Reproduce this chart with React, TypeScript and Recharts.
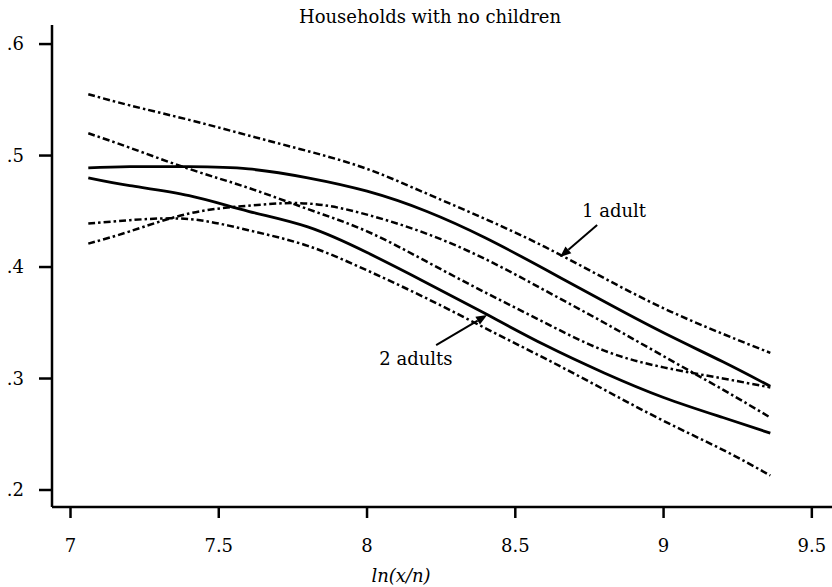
import React from 'react';
import { LineChart, Line, XAxis, YAxis, ReferenceLine, ReferenceDot } from 'recharts';

const xValues = [7.06, 7.2, 7.4, 7.6, 7.8, 8.0, 8.2, 8.4, 8.6, 8.8, 9.0, 9.2, 9.36];
const oneAdult = [0.489, 0.49, 0.49, 0.488, 0.48, 0.468, 0.45, 0.426, 0.398, 0.369, 0.341, 0.315, 0.293];
const oneAdultUpper = [0.555, 0.545, 0.532, 0.518, 0.504, 0.488, 0.466, 0.443, 0.418, 0.39, 0.363, 0.34, 0.323];
const oneAdultLower = [0.421, 0.432, 0.448, 0.455, 0.457, 0.447, 0.43, 0.407, 0.379, 0.35, 0.32, 0.29, 0.265];
const twoAdults = [0.48, 0.473, 0.464, 0.45, 0.436, 0.413, 0.386, 0.358, 0.33, 0.305, 0.283, 0.265, 0.251];
const twoAdultsUpper = [0.52, 0.507, 0.488, 0.471, 0.452, 0.432, 0.405, 0.377, 0.35, 0.325, 0.31, 0.3, 0.292];
const twoAdultsLower = [0.439, 0.442, 0.443, 0.433, 0.419, 0.397, 0.372, 0.345, 0.318, 0.29, 0.262, 0.236, 0.213];

const xTicks = [7, 7.5, 8, 8.5, 9, 9.5];
const yTicks = [0.2, 0.3, 0.4, 0.5, 0.6];

const title = 'Households with no children';
const xLabel = 'ln(x/n)';
const label1 = '1 adult';
const label2 = '2 adults';

const data = xValues.map((x, i) => ({
  x,
  oneAdult: oneAdult[i],
  oneAdultUpper: oneAdultUpper[i],
  oneAdultLower: oneAdultLower[i],
  twoAdults: twoAdults[i],
  twoAdultsUpper: twoAdultsUpper[i],
  twoAdultsLower: twoAdultsLower[i],
}));

const FONT = 'DejaVu Serif';
const FS = 18;
const DASH = '7 3 2.5 3';

const Arrow = (p: any) => {
  const { x1, y1, x2, y2 } = p;
  const dx = x2 - x1;
  const dy = y2 - y1;
  const len = Math.sqrt(dx * dx + dy * dy) || 1;
  const ux = dx / len;
  const uy = dy / len;
  const hl = 11;
  const hw = 4.5;
  const bx = x2 - ux * hl;
  const by = y2 - uy * hl;
  const pts = `${x2},${y2} ${bx - uy * hw},${by + ux * hw} ${bx + uy * hw},${by - ux * hw}`;
  return (
    <g>
      <line x1={x1} y1={y1} x2={bx} y2={by} stroke="#000" strokeWidth={2} />
      <polygon points={pts} fill="#000" />
    </g>
  );
};

export default function App() {
  return (
    <div style={{ position: 'absolute', left: 0, top: 0, width: 832, height: 587, background: '#fff' }}>
      <div
        style={{
          position: 'absolute',
          left: 0,
          width: 860,
          top: 2,
          textAlign: 'center',
          fontSize: FS,
          lineHeight: '30px',
          color: '#000',
          fontFamily: FONT,
        }}
      >
        {title}
      </div>
      <LineChart width={832} height={587} data={data} margin={{ top: 25, right: 0, bottom: 0, left: 0 }}>
        <XAxis
          dataKey="x"
          type="number"
          domain={[6.9376, 9.568]}
          allowDataOverflow
          ticks={xTicks}
          height={80}
          axisLine={{ stroke: '#000', strokeWidth: 2.5 }}
          tickLine={{ stroke: '#000', strokeWidth: 2.5 }}
          tickSize={11}
          tickMargin={21}
          tick={{ fill: '#000', fontSize: FS, fontFamily: FONT }}
          label={{
            value: xLabel,
            position: 'insideBottom',
            offset: 5,
            dx: -41,
            style: { fontStyle: 'italic', fontSize: FS, fontFamily: FONT, fill: '#000' },
          }}
        />
        <YAxis
          type="number"
          domain={[0.18475, 0.6171]}
          allowDataOverflow
          ticks={yTicks}
          width={52}
          axisLine={{ stroke: '#000', strokeWidth: 2.5 }}
          tickLine={{ stroke: '#000', strokeWidth: 2.5 }}
          tickSize={13}
          tickMargin={15}
          tick={{ fill: '#000', fontSize: FS, fontFamily: FONT }}
          tickFormatter={(v: number) => '.' + Math.round(v * 10)}
        />
        <Line type="natural" dataKey="oneAdultUpper" stroke="#000" strokeWidth={2.5} strokeDasharray={DASH} dot={false} isAnimationActive={false} />
        <Line type="natural" dataKey="oneAdult" stroke="#000" strokeWidth={2.8} dot={false} isAnimationActive={false} />
        <Line type="natural" dataKey="oneAdultLower" stroke="#000" strokeWidth={2.5} strokeDasharray={DASH} dot={false} isAnimationActive={false} />
        <Line type="natural" dataKey="twoAdultsUpper" stroke="#000" strokeWidth={2.5} strokeDasharray={DASH} dot={false} isAnimationActive={false} />
        <Line type="natural" dataKey="twoAdults" stroke="#000" strokeWidth={2.8} dot={false} isAnimationActive={false} />
        <Line type="natural" dataKey="twoAdultsLower" stroke="#000" strokeWidth={2.5} strokeDasharray={DASH} dot={false} isAnimationActive={false} />
        <ReferenceLine segment={[{ x: 8.776, y: 0.4377 }, { x: 8.651, y: 0.409 }]} shape={(p: any) => <Arrow {...p} />} />
        <ReferenceLine segment={[{ x: 8.233, y: 0.33 }, { x: 8.405, y: 0.357 }]} shape={(p: any) => <Arrow {...p} />} />
        <ReferenceDot
          x={8.833}
          y={0.451}
          r={0}
          fill="none"
          stroke="none"
          label={{ value: label1, position: 'center', fontSize: FS, fontFamily: FONT, fill: '#000' }}
        />
        <ReferenceDot
          x={8.165}
          y={0.318}
          r={0}
          fill="none"
          stroke="none"
          label={{ value: label2, position: 'center', fontSize: FS, fontFamily: FONT, fill: '#000' }}
        />
      </LineChart>
    </div>
  );
}
